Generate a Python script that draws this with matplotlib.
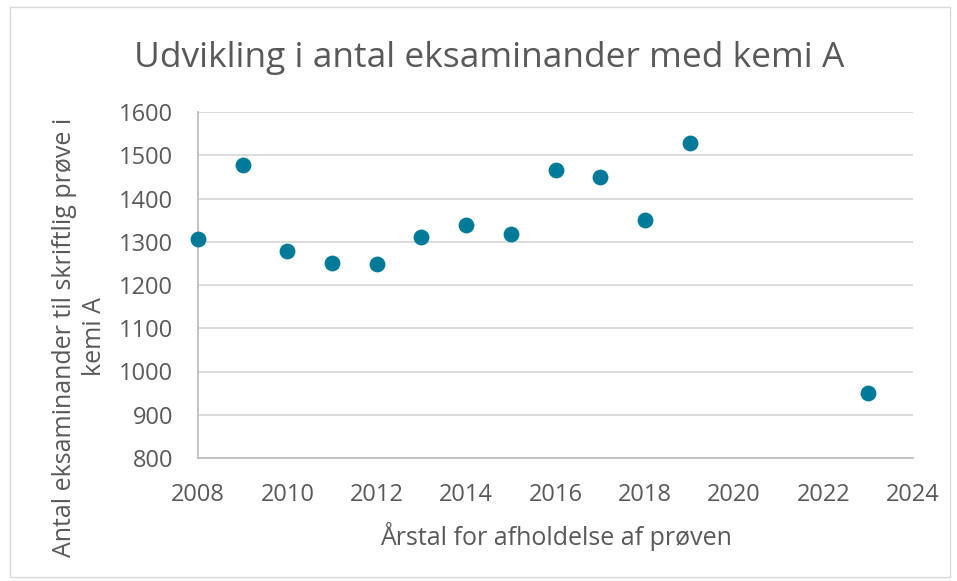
#!/usr/bin/env python

import matplotlib.pyplot as plt
from matplotlib.patches import Rectangle

years = [2008, 2009, 2010, 2011, 2012, 2013, 2014, 2015, 2016, 2017, 2018, 2019, 2023]
counts = [1307, 1478, 1279, 1251, 1248, 1310, 1339, 1317, 1465, 1450, 1350, 1528, 950]

x_ticks = [2008, 2010, 2012, 2014, 2016, 2018, 2020, 2022, 2024]
y_ticks = [800, 900, 1000, 1100, 1200, 1300, 1400, 1500, 1600]

grey = '#595959'
plt.rcParams['font.family'] = ['Open Sans', 'DejaVu Sans']

fig = plt.figure(figsize = (9.57, 5.81), dpi = 100)
ax = fig.add_axes([198/957, 1 - 458/581, (913 - 198)/957, (458 - 112)/581])

# chart border like in Excel
fig.patches.append(Rectangle((10/957, 4/581), 940/957, 570/581, transform = fig.transFigure,
                             fill = False, edgecolor = '#d9d9d9', lw = 1))

ax.scatter(years, counts, s = 130, color = '#007A99', zorder = 3, clip_on = False, linewidths = 0)

ax.set_xlim(2008, 2024)
ax.set_ylim(800, 1600)
ax.set_xticks(x_ticks)
ax.set_yticks(y_ticks)
ax.grid(axis = 'y', color = '#d9d9d9', lw = 1.3)
ax.set_axisbelow(True)
for s in ['top', 'right']:
    ax.spines[s].set_visible(False)
ax.spines['left'].set_color('#bfbfbf')
ax.spines['bottom'].set_color('#bfbfbf')
ax.spines['left'].set_linewidth(1.3)
ax.spines['bottom'].set_linewidth(1.3)
ax.tick_params(length = 0, labelsize = 17, labelcolor = grey)
ax.tick_params(axis = 'y', pad = 18)
ax.tick_params(axis = 'x', pad = 18)

fig.text(489/957, 1 - 58/581, 'Udvikling i antal eksaminander med kemi A', fontsize = 25.5,
         color = grey, ha = 'center', va = 'center')
ax.set_xlabel('Årstal for afholdelse af prøven', fontsize = 18, color = grey, labelpad = 11)
ax.set_ylabel('Antal eksaminander til skriftlig prøve i\nkemi A', fontsize = 18, color = grey,
              linespacing = 1.25)
ax.yaxis.set_label_coords(-(198 - 107)/715, 0.5 - 52/346)

plt.savefig('out.png')
